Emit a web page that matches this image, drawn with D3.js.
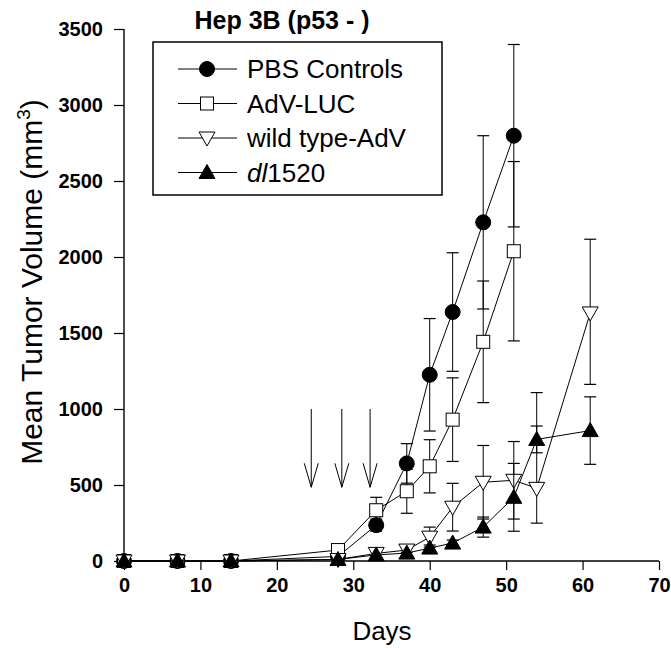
<!DOCTYPE html>
<meta charset="utf-8">

<!-- Load d3.js -->
<script src="https://d3js.org/d3.v7.min.js"></script>

<style>
body {
  margin: 0;
  background: white;
  font-family: Arial, "Liberation Sans", sans-serif;
}
</style>

<div id="my_dataviz"></div>

<script>

// ---- data ----
var daysShort = [0, 7, 14, 28, 33, 37, 40, 43, 47, 51]
var daysLong  = [0, 7, 14, 28, 33, 37, 40, 43, 47, 51, 54, 61]

var pbsValues = [0, 0, 0, 30, 236, 642, 1225, 1638, 2228, 2798]
var pbsErr    = [0, 0, 0, 0, 40, 130, 370, 390, 570, 600]

var lucValues = [0, 0, 0, 72, 334, 459, 623, 930, 1442, 2038]
var lucErr    = [0, 0, 0, 0, 85, 145, 175, 275, 400, 590]

var wildValues  = [0, 0, 0, 10, 50, 72, 157, 354, 518, 531, 478, 1632]
var wildErrUp   = [0, 0, 0, 0, 0, 15, 66, 157, 242, 255, 630, 485]
var wildErrDown = [0, 0, 0, 0, 0, 15, 66, 157, 242, 255, 229, 470]

var dlValues = [0, 0, 0, 10, 40, 52, 85, 118, 223, 419, 800, 858]
var dlErr    = [0, 0, 0, 0, 0, 0, 20, 20, 66, 223, 88, 222]

var seriesNames = ["PBS Controls", "AdV-LUC", "wild type-AdV", "dl1520"]

var arrowDays = [24.5, 28.5, 32.2]
var arrowTop = 1000
var arrowTip = 485

var xTicks = [0, 10, 20, 30, 40, 50, 60, 70]
var yTicks = [0, 500, 1000, 1500, 2000, 2500, 3000, 3500]

// ---- build series ----
function build(days, vals, up, down) {
  return days.map(function(d, i) {
    return { day: d, v: vals[i], up: up[i], down: down[i] }
  })
}
var series = [
  { name: seriesNames[0], shape: "circle", fill: "black", pts: build(daysShort, pbsValues, pbsErr, pbsErr) },
  { name: seriesNames[1], shape: "square", fill: "white", pts: build(daysShort, lucValues, lucErr, lucErr) },
  { name: seriesNames[2], shape: "down",   fill: "white", pts: build(daysLong, wildValues, wildErrUp, wildErrDown) },
  { name: seriesNames[3], shape: "up",     fill: "black", pts: build(daysLong, dlValues, dlErr, dlErr) }
]

var width = 671
var height = 648

var svg = d3.select("#my_dataviz")
  .append("svg")
    .attr("width", width)
    .attr("height", height)

var x = d3.scaleLinear().domain([0, 70]).range([124, 659])
var y = d3.scaleLinear().domain([0, 3500]).range([561, 29])

// axes
var xAxis = svg.append("g")
  .attr("transform", "translate(0," + y(0) + ")")
  .call(d3.axisBottom(x).tickValues(xTicks).tickFormat(d3.format("d")).tickSize(9).tickPadding(8))
var yAxis = svg.append("g")
  .attr("transform", "translate(" + x(0) + ",0)")
  .call(d3.axisLeft(y).tickValues(yTicks).tickFormat(d3.format("d")).tickSize(10).tickPadding(11))

svg.selectAll(".domain").attr("stroke-width", 1.4)
svg.selectAll(".tick line").attr("stroke-width", 1.2)
svg.selectAll(".tick text")
  .style("font-family", "Arial, 'Liberation Sans', sans-serif")
  .style("font-size", "20px")
  .style("font-weight", "bold")
  .attr("fill", "black")
// no outer ticks on the axis lines
xAxis.select(".domain").attr("d", "M" + x(0) + ",0H" + x(70))
yAxis.select(".domain").attr("d", "M0," + y(0) + "V" + y(3500))

// arrows
arrowDays.forEach(function(d) {
  var ax = x(d), y1 = y(arrowTop), y2 = y(arrowTip)
  svg.append("line").attr("x1", ax).attr("x2", ax).attr("y1", y1).attr("y2", y2)
    .attr("stroke", "black").attr("stroke-width", 1)
  svg.append("path")
    .attr("d", "M" + (ax - 7) + "," + (y2 - 24) + "L" + ax + "," + y2 + "L" + (ax + 7) + "," + (y2 - 24))
    .attr("fill", "none").attr("stroke", "black").attr("stroke-width", 1)
})

// marker drawing
function marker(g, shape, fill, cx, cy) {
  if (shape == "circle") {
    g.append("circle").attr("cx", cx).attr("cy", cy).attr("r", 7.5)
      .attr("fill", fill).attr("stroke", "black")
  } else if (shape == "square") {
    g.append("rect").attr("x", cx - 6.5).attr("y", cy - 6.5).attr("width", 13).attr("height", 13)
      .attr("fill", fill).attr("stroke", "black")
  } else if (shape == "down") {
    g.append("path").attr("d", "M" + (cx - 8) + "," + (cy - 6) + "L" + (cx + 8) + "," + (cy - 6) + "L" + cx + "," + (cy + 8) + "Z")
      .attr("fill", fill).attr("stroke", "black")
  } else {
    g.append("path").attr("d", "M" + (cx - 8) + "," + (cy + 6) + "L" + (cx + 8) + "," + (cy + 6) + "L" + cx + "," + (cy - 8) + "Z")
      .attr("fill", fill).attr("stroke", "black")
  }
}

var line = d3.line().x(function(d){ return x(d.day) }).y(function(d){ return y(d.v) })

series.forEach(function(s) {
  var g = svg.append("g")
  // error bars
  s.pts.forEach(function(p) {
    if (p.up > 0 || p.down > 0) {
      var px = x(p.day), top = y(p.v + p.up), bot = y(p.v - p.down)
      g.append("line").attr("x1", px).attr("x2", px).attr("y1", top).attr("y2", bot)
        .attr("stroke", "black").attr("stroke-width", 1)
      ;[top, bot].forEach(function(cy) {
        g.append("line").attr("x1", px - 6).attr("x2", px + 6).attr("y1", cy).attr("y2", cy)
          .attr("stroke", "black").attr("stroke-width", 1.2)
      })
    }
  })
  g.append("path").datum(s.pts).attr("d", line)
    .attr("fill", "none").attr("stroke", "black").attr("stroke-width", 1)
  s.pts.forEach(function(p) { marker(g, s.shape, s.fill, x(p.day), y(p.v)) })
})

// title
svg.append("text")
  .attr("x", 282).attr("y", 29)
  .attr("text-anchor", "middle")
  .style("font-size", "25px").style("font-weight", "bold")
  .text("Hep 3B (p53 - )")

// legend
var legend = svg.append("g")
legend.append("rect").attr("x", 153).attr("y", 42).attr("width", 289).attr("height", 153)
  .attr("fill", "white").attr("stroke", "black").attr("stroke-width", 1.5)
series.forEach(function(s, i) {
  var ly = 69 + i * 34.5
  legend.append("line").attr("x1", 178).attr("x2", 237).attr("y1", ly).attr("y2", ly)
    .attr("stroke", "black").attr("stroke-width", 1)
  marker(legend, s.shape, s.fill, 207, ly)
  var t = legend.append("text").attr("x", 247).attr("y", ly + 9)
    .style("font-size", "26px")
  if (s.name == "dl1520") {
    t.append("tspan").style("font-style", "italic").text("dl")
    t.append("tspan").text("1520")
  } else {
    t.text(s.name)
  }
})

// axis titles
svg.append("text")
  .attr("x", 382).attr("y", 640)
  .attr("text-anchor", "middle")
  .style("font-size", "26px")
  .text("Days")

var yl = svg.append("text")
  .attr("transform", "translate(42,282) rotate(-90)")
  .attr("text-anchor", "middle")
  .style("font-size", "30px")
yl.append("tspan").text("Mean Tumor Volume (mm")
yl.append("tspan").attr("dy", -12).style("font-size", "19px").text("3")
yl.append("tspan").attr("dy", 12).text(")")

</script>
